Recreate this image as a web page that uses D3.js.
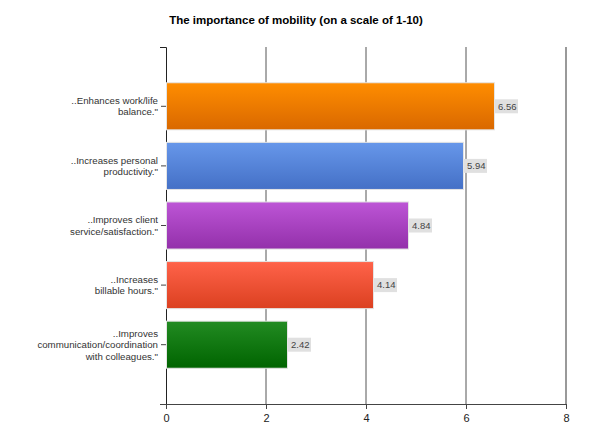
<!DOCTYPE html>
<html>
<head>
<meta charset="utf-8">
<script src="https://cdn.jsdelivr.net/npm/d3@7"></script>
<style>
body { margin: 0; background: #fff; }
svg { display: block; font-family: "Liberation Sans", Arial, sans-serif; }
</style>
</head>
<body>
<div id="chartdiv"></div>
<script>
// chart data
var categories = ['..Enhances work/life|balance."', '..Increases personal|productivity."', '..Improves client|service/satisfaction."', '..Increases|billable hours."', '..Improves|communication/coordination|with colleagues."'];
var values = [6.56, 5.94, 4.84, 4.14, 2.42];
var xTicks = [0, 2, 4, 6, 8];
var topColors = ['#ff8d00', '#6797ea', '#bd55d6', '#ff634a', '#228b22'];
var bottomColors = ['#d96800', '#4470c6', '#9330aa', '#db4020', '#006400'];
var title = 'The importance of mobility (on a scale of 1-10)';

var width = 590, height = 442;
var plotLeft = 166, plotRight = 566, plotTop = 47, plotBottom = 404;

var svg = d3.select('#chartdiv').append('svg')
    .attr('width', width).attr('height', height);

var defs = svg.append('defs');
categories.forEach(function(c, i) {
    var g = defs.append('linearGradient').attr('id', 'grad' + i)
        .attr('x1', 0).attr('y1', 0).attr('x2', 0).attr('y2', 1);
    g.append('stop').attr('offset', '0%').attr('stop-color', topColors[i]);
    g.append('stop').attr('offset', '100%').attr('stop-color', bottomColors[i]);
});

var x = d3.scaleLinear().domain([0, 8]).range([plotLeft, plotRight]);
var y = d3.scaleBand().domain(categories).range([plotTop, plotBottom])
    .paddingInner(0.21).paddingOuter(0.6);

// title
svg.append('text')
    .attr('x', 296).attr('y', 24)
    .attr('text-anchor', 'middle')
    .attr('font-size', 11.5).attr('font-weight', 'bold')
    .attr('fill', '#000')
    .text(title);

// grid lines
svg.selectAll('.grid').data(xTicks.slice(1)).enter().append('line')
    .attr('class', 'grid')
    .attr('x1', function(d) { return x(d); }).attr('x2', function(d) { return x(d); })
    .attr('y1', plotTop).attr('y2', plotBottom)
    .attr('stroke', function(d) { return d === 8 ? '#999' : '#555'; })
    .attr('stroke-width', function(d) { return d === 8 ? 2 : 1; });

// x axis
var xAxis = svg.append('g')
    .attr('transform', 'translate(0,' + plotBottom + ')')
    .call(d3.axisBottom(x).tickValues(xTicks).tickSize(5).tickSizeOuter(0));
xAxis.select('.domain').attr('stroke', '#444').attr('d', 'M' + (plotLeft - 6) + ',0.5H' + plotRight);
xAxis.selectAll('.tick line').attr('stroke', '#444');
xAxis.selectAll('.tick text').attr('font-size', 11).attr('fill', '#222')
    .attr('font-family', '"Liberation Sans", Arial, sans-serif').attr('dy', '0.9em');

// y axis
var yAxis = svg.append('g')
    .attr('transform', 'translate(' + plotLeft + ',0)')
    .call(d3.axisLeft(y).tickSize(5).tickSizeOuter(0).tickFormat(''));
yAxis.select('.domain').attr('stroke', '#222').attr('d', 'M-6,' + (plotTop + 0.5) + 'H0.5V' + plotBottom);
yAxis.selectAll('.tick line').attr('stroke', '#444');

// category labels (multi-line)
var labels = svg.selectAll('.catlabel').data(categories).enter().append('text')
    .attr('class', 'catlabel')
    .attr('text-anchor', 'end')
    .attr('font-size', 9.7).attr('fill', '#333')
    .attr('transform', function(d) {
        return 'translate(' + (plotLeft - 8) + ',' + (y(d) + y.bandwidth() / 2) + ')';
    });
labels.each(function(d) {
    var lines = d.split('|');
    var t = d3.select(this);
    var lh = 11.5;
    lines.forEach(function(l, i) {
        t.append('tspan').attr('x', 0)
            .attr('y', (i - (lines.length - 1) / 2) * lh)
            .attr('dy', '0.35em')
            .text(l);
    });
});

// bars
svg.selectAll('.bar').data(values).enter().append('rect')
    .attr('class', 'bar')
    .attr('x', x(0) + 0.5)
    .attr('y', function(d, i) { return y(categories[i]); })
    .attr('width', function(d) { return x(d) - x(0); })
    .attr('height', y.bandwidth())
    .attr('fill', function(d, i) { return 'url(#grad' + i + ')'; })
    .attr('stroke', '#e4e4e4').attr('stroke-width', 1);

// value labels
var vl = svg.selectAll('.vlabel').data(values).enter().append('g')
    .attr('class', 'vlabel')
    .attr('transform', function(d, i) {
        return 'translate(' + (x(d) + 1) + ',' + (y(categories[i]) + y.bandwidth() / 2) + ')';
    });
vl.append('rect')
    .attr('x', 0).attr('y', -7).attr('width', 23).attr('height', 14)
    .attr('fill', '#e0e0e0');
vl.append('text')
    .attr('x', 3).attr('y', 0).attr('dy', '0.35em')
    .attr('font-size', 9.5).attr('fill', '#444')
    .text(function(d) { return d.toFixed(2); });
</script>
</body>
</html>
